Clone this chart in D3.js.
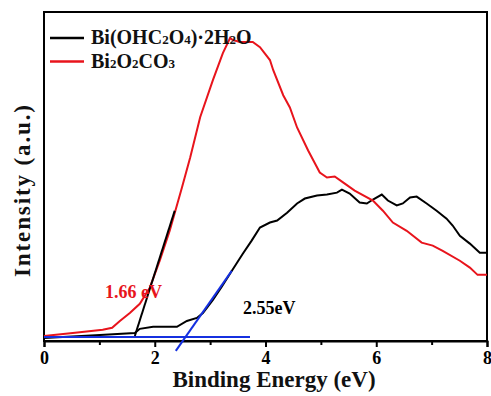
<!DOCTYPE html>
<html>
<head>
<meta charset="utf-8">
<script src="https://cdn.jsdelivr.net/npm/d3@7"></script>
<style>
  body { margin: 0; background: #fff; }
  svg text { font-family: "Liberation Serif", "Times New Roman", serif; font-weight: bold; }
</style>
</head>
<body>
<div id="chartArea"></div>
<script>
// Binding energy (eV) and intensity (a.u., 0-100)
const redX = [0, 0.52, 1.06, 1.23, 1.37, 1.55, 1.73, 1.91, 2.09, 2.27, 2.49, 2.64, 2.82, 3.05, 3.23, 3.36, 3.41, 3.54, 3.77, 3.90, 4.08, 4.14, 4.32, 4.44, 4.57, 4.77, 4.98, 5.11, 5.25, 5.40, 5.61, 5.94, 6.12, 6.30, 6.55, 6.82, 7.02, 7.20, 7.51, 7.69, 7.83, 8.0];
const redY = [1.5, 2.4, 3.4, 4.0, 6.1, 8.5, 11.3, 16.2, 24.4, 33.5, 46.6, 55.8, 68.0, 79.3, 87.5, 92.1, 91.5, 90.9, 90.9, 89.3, 85.4, 82.3, 74.7, 71.0, 64.9, 57.9, 51.2, 49.7, 50.0, 48.2, 45.7, 42.7, 39.6, 36.0, 33.5, 29.9, 29.0, 27.4, 24.4, 22.3, 20.1, 20.1];

const blackX = [0, 1.01, 1.64, 1.73, 1.97, 2.22, 2.40, 2.58, 2.76, 2.87, 3.05, 3.21, 3.39, 3.59, 3.75, 3.90, 4.08, 4.21, 4.39, 4.57, 4.71, 4.93, 5.11, 5.29, 5.38, 5.52, 5.70, 5.83, 5.94, 6.10, 6.21, 6.37, 6.48, 6.61, 6.73, 6.91, 7.09, 7.27, 7.38, 7.51, 7.69, 7.87, 8.0];
const blackY = [0.9, 1.8, 2.4, 3.7, 4.3, 4.3, 4.3, 6.1, 7.0, 8.5, 12.5, 16.5, 21.3, 26.5, 30.5, 34.5, 36.0, 36.6, 39.0, 41.8, 43.3, 44.2, 44.5, 45.1, 46.0, 44.8, 42.1, 41.8, 43.0, 44.5, 42.7, 41.2, 41.8, 43.6, 43.9, 41.8, 39.6, 37.2, 35.1, 32.0, 29.6, 26.8, 26.8];

// tangent / baseline construction lines: [x1, y1, x2, y2]
const redTangent = [1.64, 1.5, 2.36, 39.6];
const blueBase = [0, 1.2, 3.72, 1.2];
const blueTangent = [2.38, -3.0, 3.39, 21.3];

const xTicks = [0, 2, 4, 6, 8];
const xMinorTicks = [1, 3, 5, 7];
const seriesNames = ["Bi(OHC₂O₄)·2H₂O", "Bi₂O₂CO₃"];

const width = 491, height = 396;
const margin = { top: 12, right: 4, bottom: 55, left: 44 };
const serif = '"Liberation Serif", "Times New Roman", serif';

const svg = d3.select("#chartArea").append("svg")
  .attr("width", width).attr("height", height);

const x = d3.scaleLinear().domain([0, 8]).range([margin.left, width - margin.right]);
const y = d3.scaleLinear().domain([0, 100]).range([height - margin.bottom, margin.top]);

const line = d3.line().x(d => x(d[0])).y(d => y(d[1]));

// frame
svg.append("rect")
  .attr("x", x(0)).attr("y", y(100))
  .attr("width", x(8) - x(0)).attr("height", y(0) - y(100))
  .attr("fill", "none").attr("stroke", "#000").attr("stroke-width", 2);

// x axis
const xAxis = svg.append("g")
  .attr("transform", `translate(0,${y(0)})`)
  .call(d3.axisBottom(x).tickValues(xTicks).tickSize(6).tickPadding(4).tickFormat(d3.format("d")))
  .attr("font-family", serif).attr("font-size", 18).attr("font-weight", "bold");
xAxis.select(".domain").attr("stroke-width", 2);
xAxis.selectAll(".tick line").attr("stroke-width", 2);
xAxis.selectAll(".tick text").attr("fill", "#000");

svg.append("g")
  .attr("transform", `translate(0,${y(0)})`)
  .call(d3.axisBottom(x).tickValues(xMinorTicks).tickSize(4).tickFormat(""))
  .call(g => g.select(".domain").remove())
  .selectAll(".tick line").attr("stroke-width", 2);

// curves
const blackData = blackX.map((v, i) => [v, blackY[i]]);
const redData = redX.map((v, i) => [v, redY[i]]);

svg.append("path").datum(blackData).attr("d", line)
  .attr("fill", "none").attr("stroke", "#000").attr("stroke-width", 2);
svg.append("path").datum(redData).attr("d", line)
  .attr("fill", "none").attr("stroke", "#e8141c").attr("stroke-width", 2);

// construction lines
function seg(s, color) {
  svg.append("line")
    .attr("x1", x(s[0])).attr("y1", y(s[1]))
    .attr("x2", x(s[2])).attr("y2", y(s[3]))
    .attr("stroke", color).attr("stroke-width", 2);
}
seg(blueBase, "#1530e0");
seg(blueTangent, "#1530e0");
seg(redTangent, "#000");

// annotations
svg.append("text").attr("x", 105).attr("y", 298)
  .attr("fill", "#e8141c").style("font-size", "18px").text("1.66 eV");
svg.append("text").attr("x", 243).attr("y", 314)
  .attr("fill", "#000").style("font-size", "18px").text("2.55eV");

// legend
const legendColors = ["#000", "#e8141c"];
const legend = svg.append("g");
seriesNames.forEach((name, i) => {
  const ly = 38 + i * 23.5;
  legend.append("line").attr("x1", 50).attr("x2", 84).attr("y1", ly).attr("y2", ly)
    .attr("stroke", legendColors[i]).attr("stroke-width", 2.5);
  const t = legend.append("text").attr("x", 91).attr("y", ly + 6).style("font-size", "20px").attr("fill", "#111");
  // split into normal text and subscript digits
  name.split(/([₀-₉]+)/).forEach(part => {
    if (!part) return;
    if (/[₀-₉]/.test(part)) {
      const digits = part.replace(/[₀-₉]/g, c => String(c.charCodeAt(0) - 0x2080));
      t.append("tspan").style("font-size", "13px").text(digits);
    } else {
      t.append("tspan").text(part);
    }
  });
});

// axis titles
svg.append("text").attr("x", 274).attr("y", 387).attr("text-anchor", "middle")
  .style("font-size", "23px").attr("fill", "#111").text("Binding Energy (eV)");
svg.append("text").attr("transform", "translate(30,191) rotate(-90)").attr("text-anchor", "middle")
  .style("font-size", "23px").attr("fill", "#111")
  .attr("textLength", 172).attr("lengthAdjust", "spacing").text("Intensity (a.u.)");
</script>
</body>
</html>
